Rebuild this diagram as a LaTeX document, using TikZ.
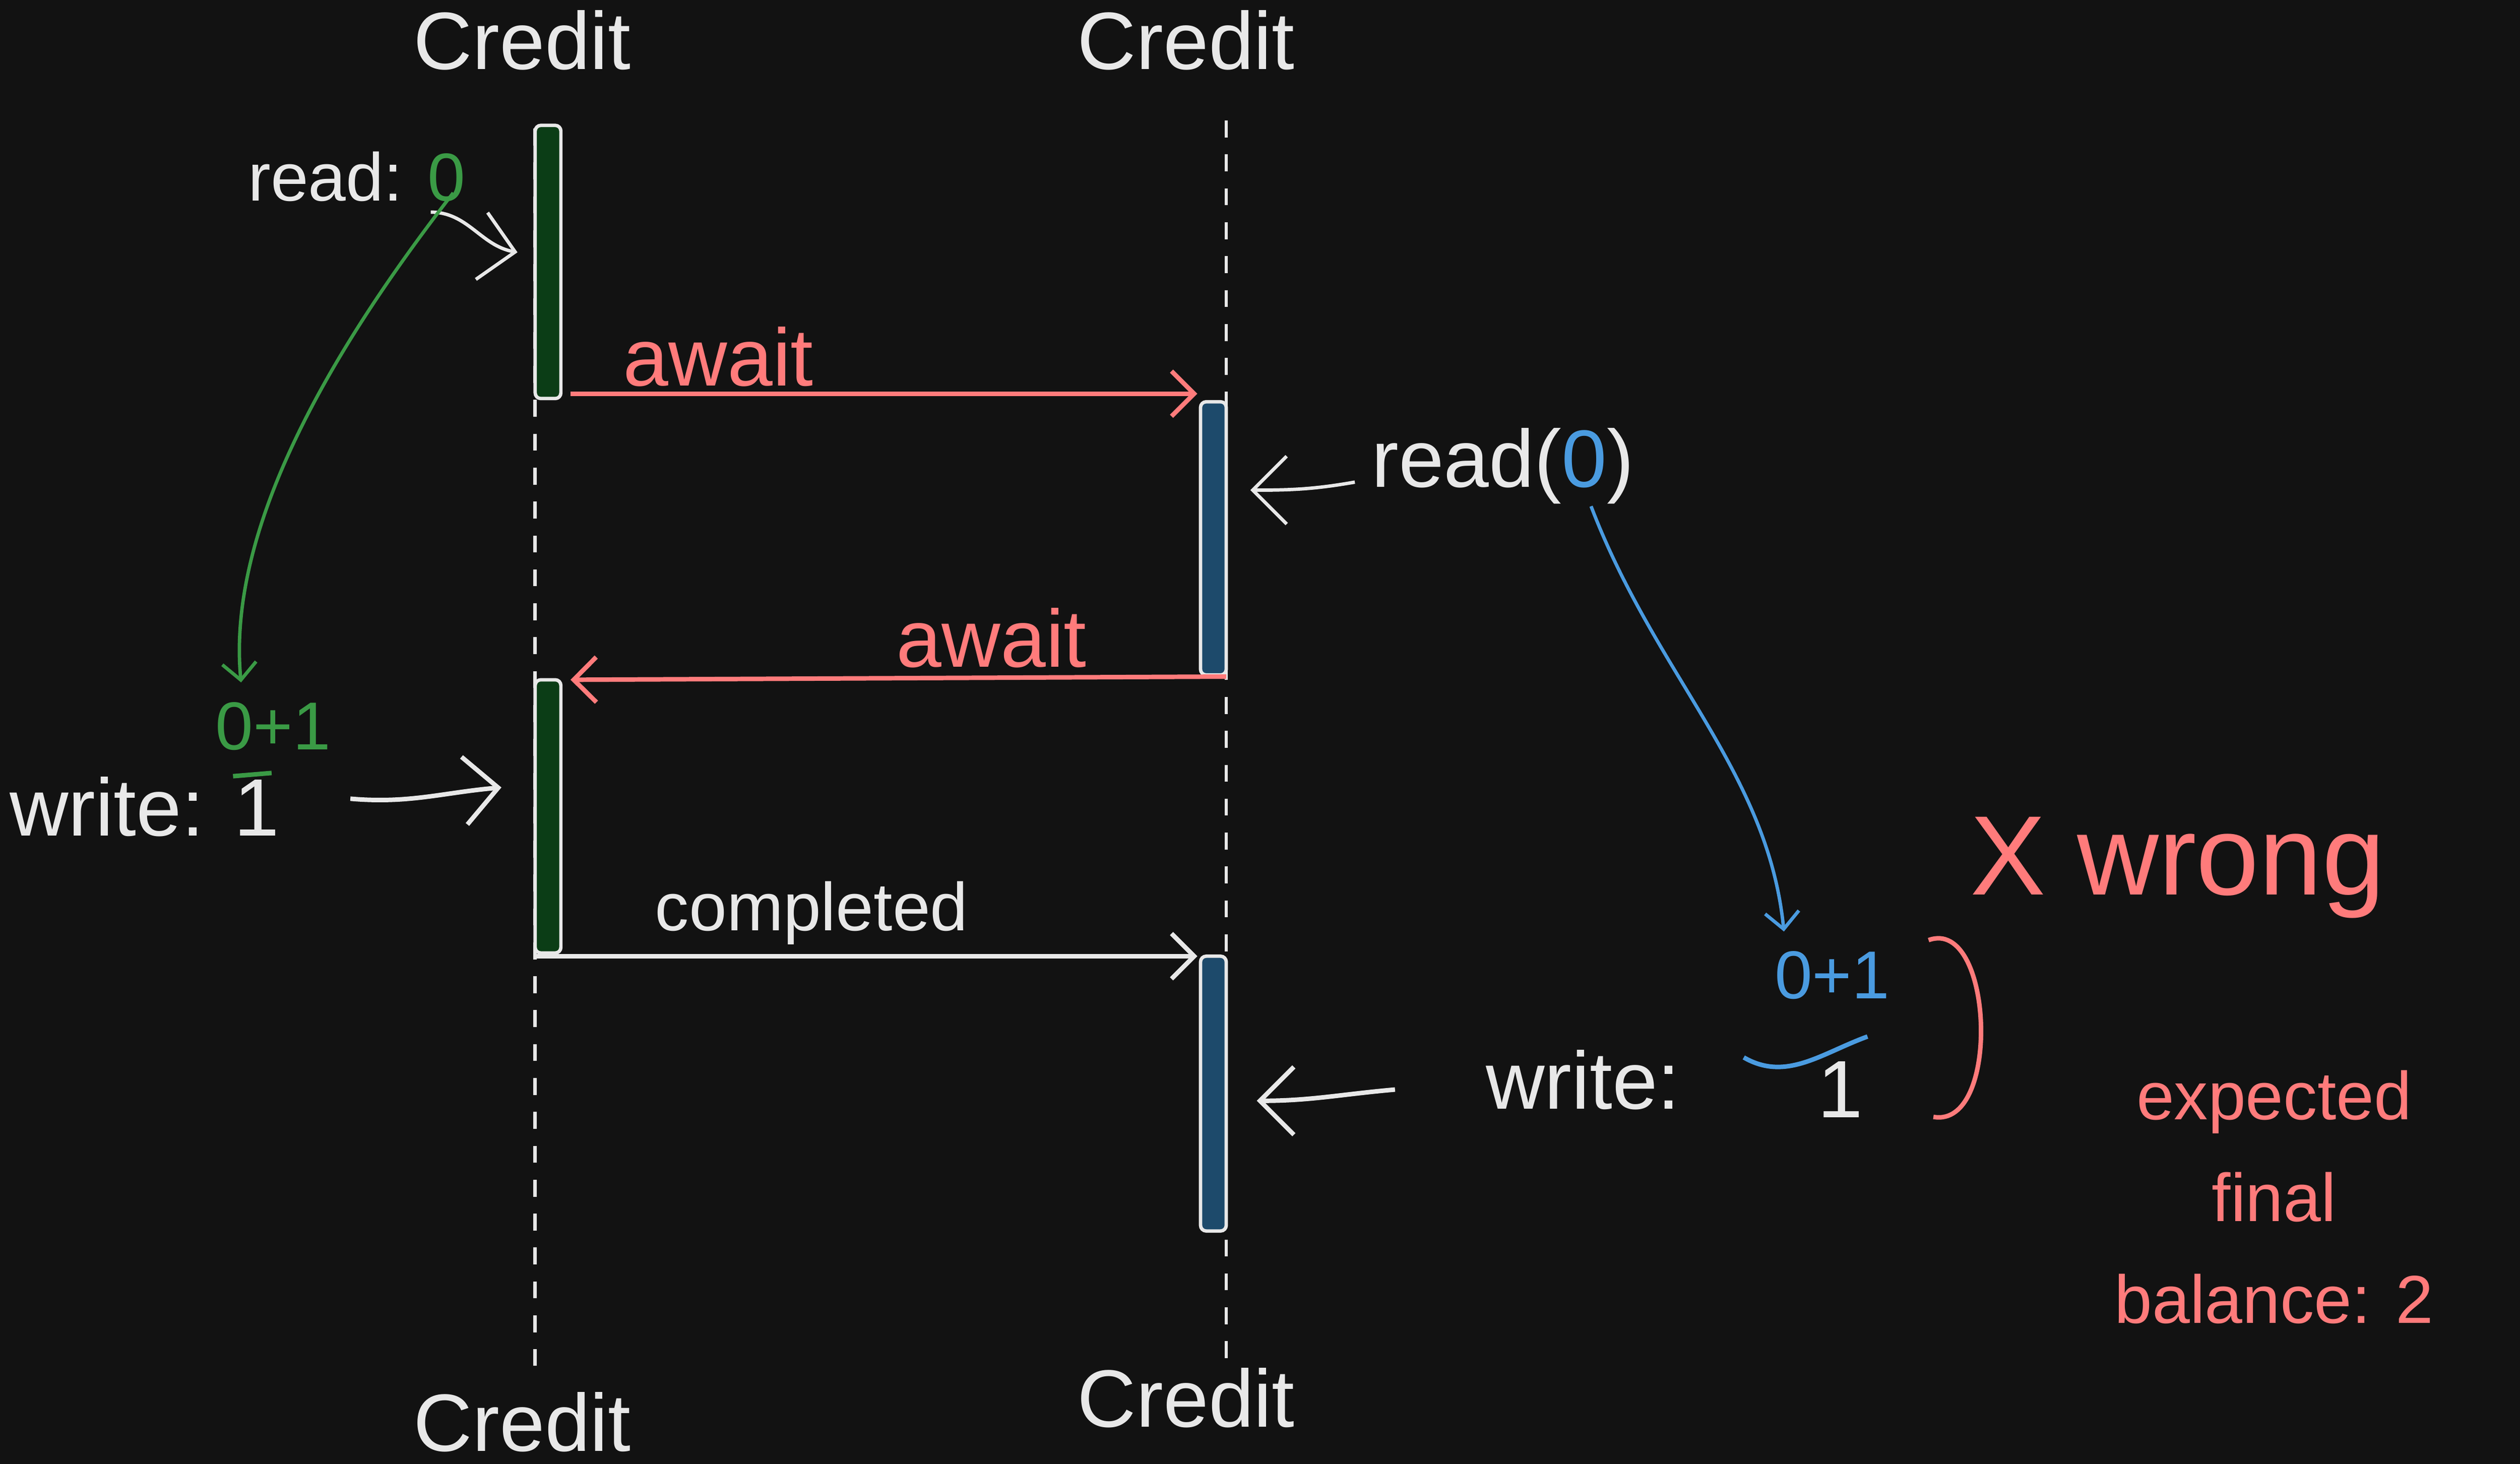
\documentclass[tikz,border=0pt]{standalone}
\usepackage{fontspec}
\setmainfont{Liberation Sans}
\usetikzlibrary{positioning,arrows.meta}
\definecolor{bg}{HTML}{121212}
\definecolor{hand}{HTML}{E8E8E8}
\definecolor{redink}{HTML}{FF7B7B}
\definecolor{greenink}{HTML}{3A9A45}
\definecolor{blueink}{HTML}{4A9BE0}
\definecolor{greenbar}{HTML}{0B3D16}
\definecolor{bluebar}{HTML}{1D4A6B}
\tikzset{
  txt/.style={text=hand, font=\Large},
  life/.style={hand, dashed, line width=0.6pt},
  gbar/.style={draw=hand, fill=greenbar, rounded corners=1pt, line width=0.6pt},
  bbar/.style={draw=hand, fill=bluebar, rounded corners=1pt, line width=0.6pt},
  msg/.style={-{Straight Barb[length=4pt]}, line width=0.8pt},
  hint/.style={-{Straight Barb[length=6pt]}, hand, line width=0.6pt},
  link/.style={-{Straight Barb[length=3pt]}, line width=0.6pt}
}
\begin{document}
\begin{tikzpicture}[x=0.01cm, y=-0.01cm]
    % Hintergrund
    \fill[bg] (0,0) rectangle (1568,911);
    \useasboundingbox (0,0) rectangle (1568,911);

    % Lebenslinien
    \node[txt] (ct1) at (325,25) {Credit};
    \node[txt] (ct2) at (738,25) {Credit};
    \node[txt] (cb1) at (325,885) {Credit};
    \node[txt] (cb2) at (738,870) {Credit};
    \draw[life] (333,80) -- (333,850);
    \draw[life] (763,75) -- (763,850);

    % Balken
    \draw[gbar] (333,78) rectangle (349,248);
    \draw[gbar] (333,423) rectangle (349,593);
    \draw[bbar] (747,250) rectangle (763,420);
    \draw[bbar] (747,595) rectangle (763,766);

    % Nachrichten
    \coordinate (a1s) at (355,245); \coordinate (a1e) at (745,245);
    \coordinate (a2s) at (763,421); \coordinate (a2e) at (355,423);
    \coordinate (c1s) at (333,595); \coordinate (c1e) at (745,595);
    \draw[msg, redink] (a1s) -- (a1e);
    \draw[msg, redink] (a2s) -- (a2e);
    \draw[msg, hand] (c1s) -- (c1e);
    \node[text=redink, font=\Large] (aw1) at (447,222) {await};
    \node[text=redink, font=\Large] (aw2) at (617,397) {await};
    \node[txt, font=\large] (comp) at (505,568) {completed};

    % linke Seite
    \node[txt, font=\large] (rd1) at (222,110) {read: \textcolor{greenink}{0}};
    \coordinate (rd1e) at (322,157);
    \draw[hint] (268,132) to[out=0, in=170] (rd1e);
    \node[text=greenink, font=\large] (sum1) at (170,452) {0+1};
    \node[txt] (wr1) at (90,502) {write: 1};
    \draw[link, greenink] (282,120) .. controls (220,200) and (140,320) .. (sum1.north -| 150,0);
    \draw[greenink, line width=0.8pt] (145,483) -- (169,481);
    \coordinate (wr1e) at (312,490);
    \draw[hint, line width=0.8pt] (218,497) to[out=-5, in=185] (wr1e);

    % rechte Seite
    \node[txt] (rd2) at (935,290) {read(\textcolor{blueink}{0})};
    \coordinate (rd2e) at (778,305);
    \draw[hint] (843,300) to[out=190, in=0] (rd2e);
    \node[text=blueink, font=\large] (sum2) at (1140,607) {0+1};
    \draw[link, blueink] (990,315) .. controls (1030,420) and (1100,480) .. (sum2.north -| 1110,0);
    \draw[blueink, line width=0.8pt] (1085,658) to[out=-30, in=200] (1162,645);
    \node[txt] (wr2) at (985,672) {write:};
    \node[txt] (one2) at (1145,678) {1};
    \coordinate (wr2e) at (782,685);
    \draw[hint, line width=0.8pt] (868,678) to[out=185, in=0] (wr2e);
    \draw[redink, line width=0.8pt] (1200,585) to[out=20, in=-10] (1203,695);

    % Fehler
    \node[text=redink, font=\fontsize{20}{20}\selectfont] (wrong) at (1355,540) {X wrong};
    \node[text=redink, font=\large, align=center, inner sep=0pt] (exp) at (1415,745) {expected\\[4pt]final\\[4pt]balance: 2};
\end{tikzpicture}
\end{document}
